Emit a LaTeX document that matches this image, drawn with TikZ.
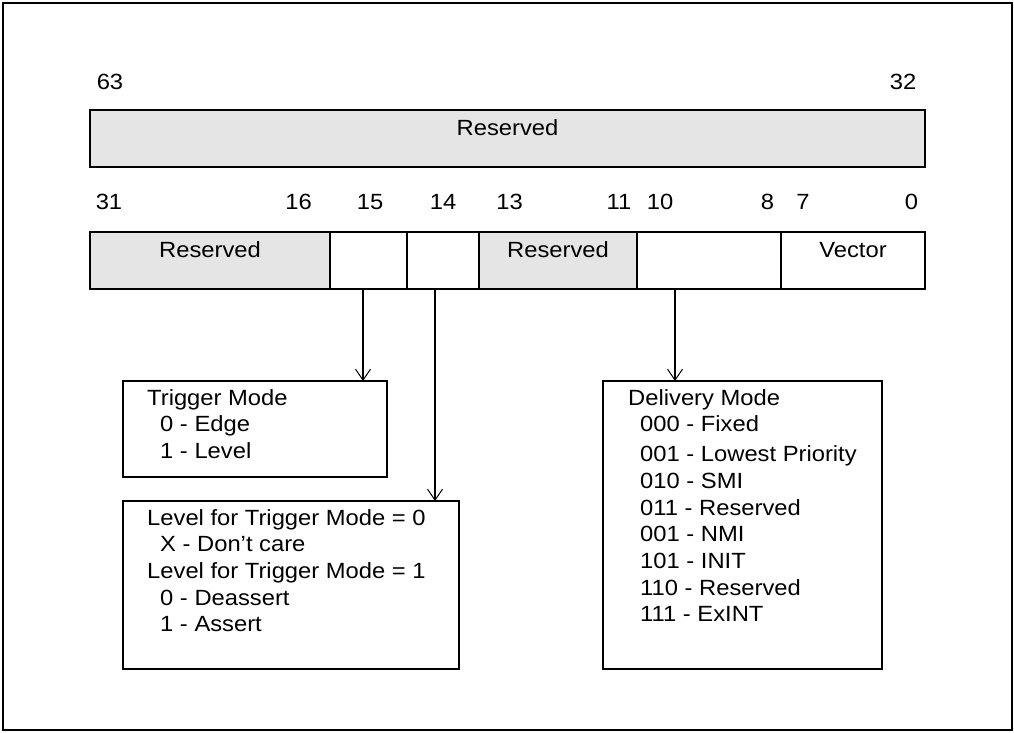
\documentclass[tikz,border=0pt]{standalone}
\usepackage{fontspec}
\setmainfont{Liberation Sans}[FakeStretch=1.08]
\usetikzlibrary{arrows.meta}
\definecolor{resgray}{RGB}{229,229,229}
\begin{document}
\begin{tikzpicture}[x=1pt,y=-1pt,
  box/.style={draw, line width=2pt, inner sep=0pt, outer sep=0pt, anchor=north west},
  gbox/.style={box, fill=resgray},
  txt/.style={inner sep=0pt, anchor=base, font=\fontsize{22}{26}\selectfont},
  ltxt/.style={inner sep=0pt, anchor=base west, font=\fontsize{22}{26}\selectfont},
  arr/.style={line width=1.7pt, -{Straight Barb[length=11pt,width=15pt,line width=1pt]}}]
\useasboundingbox (0,0) rectangle (1014,732);
\draw[line width=2.2pt] (3,3) rectangle (1012,730);
% row 1
\node[gbox, minimum width=835pt, minimum height=57pt] (r1) at (90,110) {};
\node[txt] (r1t) at (507.5,135) {Reserved};
\node[txt] (b63) at (110,89) {63};
\node[txt] (b32) at (903,89) {32};
% row 2
\node[gbox, minimum width=240pt, minimum height=57pt] (c31) at (90,232) {};
\node[box, minimum width=77pt, minimum height=57pt] (c15) at (330,232) {};
\node[box, minimum width=72pt, minimum height=57pt] (c14) at (407,232) {};
\node[gbox, minimum width=158pt, minimum height=57pt] (c13) at (479,232) {};
\node[box, minimum width=144pt, minimum height=57pt] (c10) at (637,232) {};
\node[box, minimum width=144pt, minimum height=57pt] (c7) at (781,232) {};
\node[txt] (c31t) at (210,257) {Reserved};
\node[txt] (c13t) at (558,257) {Reserved};
\node[txt] (c7t) at (853,257) {Vector};
\node[txt] (b31) at (109,209) {31};
\node[txt] (b16) at (298.5,209) {16};
\node[txt] (b15) at (370,209) {15};
\node[txt] (b14) at (443,209) {14};
\node[txt] (b13) at (509.5,209) {13};
\node[txt] (b11) at (619,209) {11};
\node[txt] (b10) at (660,209) {10};
\node[txt] (b8) at (767.5,209) {8};
\node[txt] (b7) at (803,209) {7};
\node[txt] (b0) at (911.5,209) {0};
% lower boxes
\node[box, minimum width=264pt, minimum height=96pt] (tm) at (123,381) {};
\node[box, minimum width=336pt, minimum height=168pt] (lv) at (123,501) {};
\node[box, minimum width=279pt, minimum height=288pt] (dm) at (603,381) {};
% arrows
\draw[arr] (c15.south -| 363,0) -- (tm.north -| 363,0);
\draw[arr] (c14.south -| 435,0) -- (lv.north -| 435,0);
\draw[arr] (c10.south -| 675,0) -- (dm.north -| 675,0);
% trigger mode text
\node[ltxt] (tm1) at (147,405) {Trigger Mode};
\node[ltxt] (tm2) at (160,431.7) {0 - Edge};
\node[ltxt] (tm3) at (160,458.3) {1 - Level};
% level text
\node[ltxt] (lv1) at (147,525) {Level for Trigger Mode = 0};
\node[ltxt] (lv2) at (160,551.7) {X - Don’t care};
\node[ltxt] (lv3) at (147,578.3) {Level for Trigger Mode = 1};
\node[ltxt] (lv4) at (160,605) {0 - Deassert};
\node[ltxt] (lv5) at (160,631.7) {1 - Assert};
% delivery mode text
\node[ltxt] (dm0) at (628,405) {Delivery Mode};
\node[ltxt] (dm1) at (640,431.7) {000 - Fixed};
\node[ltxt] (dm2) at (640,461.7) {001 - Lowest Priority};
\node[ltxt] (dm3) at (640,488.3) {010 - SMI};
\node[ltxt] (dm4) at (640,515) {011 - Reserved};
\node[ltxt] (dm5) at (640,541.7) {001 - NMI};
\node[ltxt] (dm6) at (640,568.3) {101 - INIT};
\node[ltxt] (dm7) at (640,595) {110 - Reserved};
\node[ltxt] (dm8) at (640,621.7) {111 - ExINT};
\end{tikzpicture}
\end{document}
